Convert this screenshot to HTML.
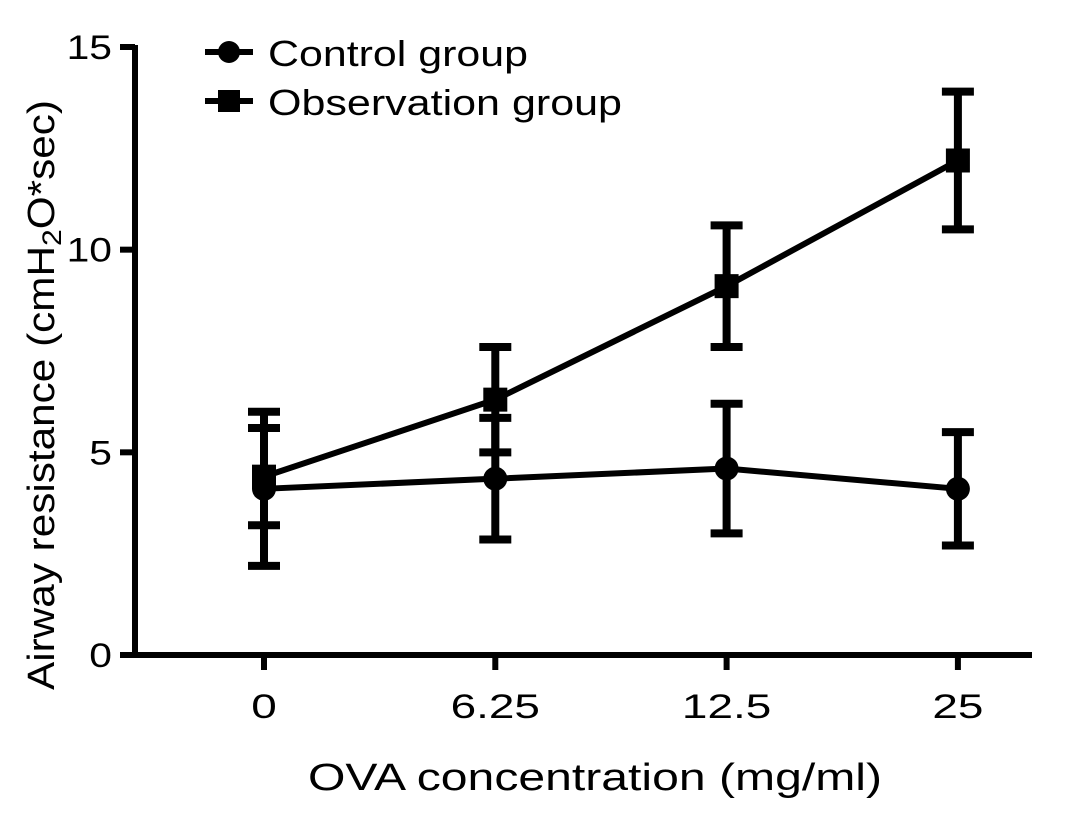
<!DOCTYPE html>
<html><head><meta charset="utf-8"><style>
body{margin:0;background:#fff;}
svg{display:block;font-family:"Liberation Sans",Arial,sans-serif;}
</style></head><body>
<svg id="chart" width="1087" height="823" viewBox="0 0 1087 823">
<g id="axes"></g>
<g id="marks"></g>
<text class="sx" data-len="590" transform="translate(54,395) rotate(-90)" text-anchor="middle" style="font-size:38px">Airway resistance (cmH<tspan style="font-size:27px" dy="7">2</tspan><tspan dy="-7">O*sec)</tspan></text>
<text class="sx" data-len="574" x="595" y="790" text-anchor="middle" style="font-size:38px">OVA concentration (mg/ml)</text>
<g>
<g>
<line x1="205" y1="52" x2="253" y2="52" stroke="#000" stroke-width="6"/>
<circle cx="229" cy="52" r="11" fill="#000"/>
<text class="sx" data-len="260" x="268" y="66" style="font-size:36px">Control group</text></g>
<g>
<line x1="205" y1="101" x2="253" y2="101" stroke="#000" stroke-width="6"/>
<rect x="218" y="90" width="22" height="22" fill="#000"/>
<text class="sx" data-len="354" x="268" y="115" style="font-size:36px">Observation group</text></g>
</g>
</svg>
<script>
const categories=["0","6.25","12.5","25"];
const controlMean=[4.1,4.35,4.6,4.1];
const controlErr=[1.9,1.5,1.6,1.4];
const obsMean=[4.4,6.3,9.1,12.2];
const obsErr=[1.2,1.3,1.5,1.7];
const yTicks=[0,5,10,15];
const NS="http://www.w3.org/2000/svg";
const y=v=>655-v*(608/15);
const x=i=>264+i*231.3;
function mk(t,a,p){const e=document.createElementNS(NS,t);for(const k in a)e.setAttribute(k,a[k]);p.appendChild(e);return e;}
function stretch(el,f){const w=el.getComputedTextLength();el.setAttribute('textLength',w*f);el.setAttribute('lengthAdjust','spacingAndGlyphs');}
const ax=document.getElementById('axes'),mg=document.getElementById('marks');
let e=mk('line',{x1:135,y1:45,x2:135,y2:658,stroke:'#000','stroke-width':6},ax);


e=mk('line',{x1:132,y1:655,x2:1032,y2:655,stroke:'#000','stroke-width':6},ax);


yTicks.forEach(v=>{
 const t=mk('line',{x1:120,y1:y(v),x2:135,y2:y(v),stroke:'#000','stroke-width':6},ax);
 
 
 const l=mk('text',{x:112,y:y(v)+12,'text-anchor':'end',style:'font-size:34px'},ax);l.textContent=v;
 
 
 stretch(l,1.2);
});
categories.forEach((c,i)=>{
 const t=mk('line',{x1:x(i),y1:655,x2:x(i),y2:670,stroke:'#000','stroke-width':6},ax);
 
 
 const l=mk('text',{x:x(i),y:718,'text-anchor':'middle',style:'font-size:34px'},ax);l.textContent=c;
 
 
 stretch(l,1.35);
});
document.querySelectorAll('.sx').forEach(el=>{el.setAttribute('textLength',el.dataset.len);el.setAttribute('lengthAdjust','spacingAndGlyphs');});
function series(m,er,name,sq){
 const g=mk('g',{},mg);
 
 
 const pl=mk('polyline',{points:m.map((v,i)=>x(i)+','+y(v)).join(' '),fill:'none',stroke:'#000','stroke-width':6},g);
 
 
 m.forEach((v,i)=>{
  const hi=y(v+er[i]),lo=y(v-er[i]);
  const b=mk('path',{d:`M${x(i)} ${hi}V${lo}M${x(i)-16} ${hi}H${x(i)+16}M${x(i)-16} ${lo}H${x(i)+16}`,stroke:'#000','stroke-width':8,fill:'none'},g);
  
  
  const p=sq?mk('rect',{x:x(i)-12,y:y(v)-12,width:24,height:24,fill:'#000'},g):mk('circle',{cx:x(i),cy:y(v),r:12,fill:'#000'},g);
  
  
 });
}
series(controlMean,controlErr,'control-group',false);
series(obsMean,obsErr,'observation-group',true);
</script>
</body></html>
